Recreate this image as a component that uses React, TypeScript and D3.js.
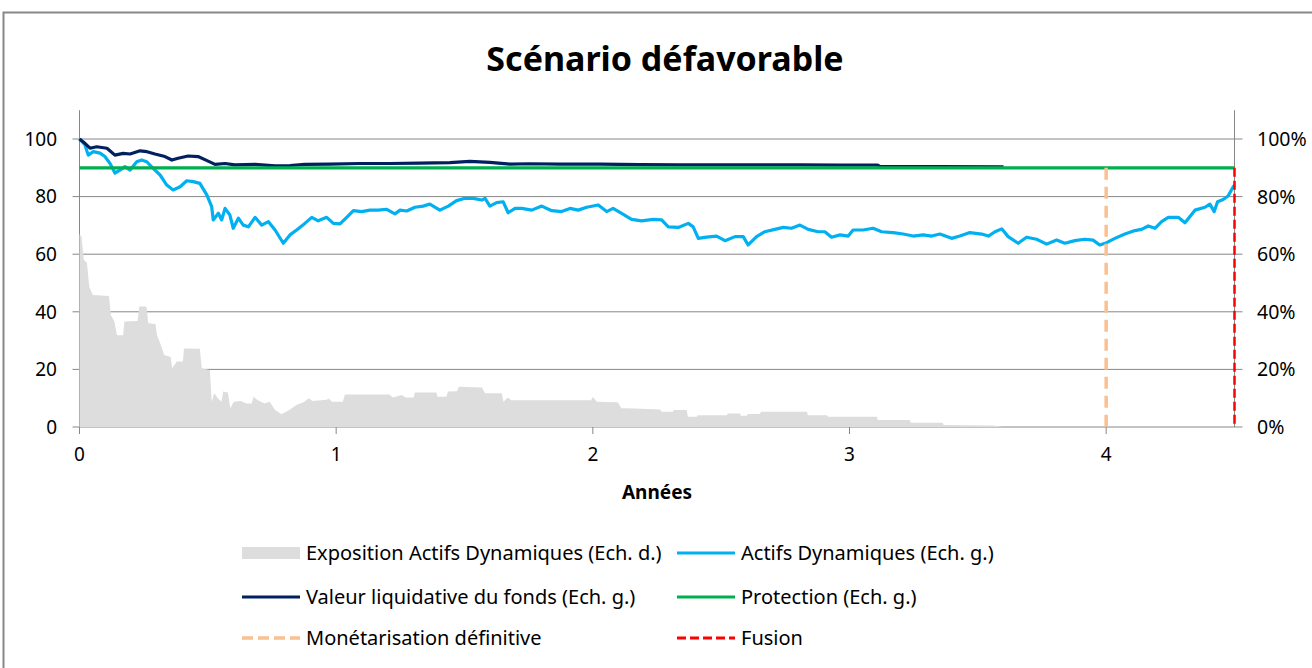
import React from "react";
import * as d3 from "d3";

// ---------- DATA ----------
const TITLE = "Scénario défavorable";
const X_LABEL = "Années";
const xTicks = [0, 1, 2, 3, 4];
const leftTicks = [0, 20, 40, 60, 80, 100];
const rightTicks = [0, 0.2, 0.4, 0.6, 0.8, 1.0];

// Actifs Dynamiques (Ech. g.) : [années, valeur]
const actifsDynamiques: [number, number][] = [
  [0, 100], [0.021, 98], [0.034, 94.4], [0.054, 95.6], [0.08, 95.1], [0.099, 93.9],
  [0.119, 91.5], [0.138, 88.2], [0.158, 89.2], [0.177, 90.4], [0.197, 89.2], [0.223, 92.1],
  [0.242, 92.7], [0.262, 92.1], [0.287, 89.8], [0.314, 87.5], [0.34, 84], [0.365, 82.3],
  [0.392, 83.4], [0.418, 85.5], [0.443, 85.2], [0.469, 84.6], [0.496, 80.6], [0.515, 76.5],
  [0.521, 71.9], [0.541, 74.2], [0.554, 71.9], [0.567, 75.9], [0.586, 73.6], [0.599, 69],
  [0.619, 72.5], [0.638, 70.1], [0.658, 69.5], [0.684, 72.8], [0.71, 70.1], [0.736, 71.3],
  [0.762, 68.4], [0.794, 63.8], [0.82, 66.7], [0.846, 68.4], [0.878, 70.7], [0.905, 72.8],
  [0.93, 71.6], [0.963, 72.8], [0.989, 70.7], [1.015, 70.5], [1.041, 72.8], [1.067, 75.1],
  [1.099, 74.8], [1.132, 75.3], [1.164, 75.3], [1.197, 75.6], [1.229, 74], [1.249, 75.3],
  [1.275, 75], [1.307, 76.3], [1.339, 76.7], [1.365, 77.4], [1.404, 75.3], [1.437, 76.7],
  [1.469, 78.6], [1.502, 79.4], [1.534, 79.4], [1.567, 78.8], [1.58, 79.4], [1.599, 76.7],
  [1.625, 77.9], [1.651, 78.2], [1.67, 74.4], [1.697, 75.9], [1.723, 75.9], [1.762, 75.3],
  [1.801, 76.7], [1.84, 75.1], [1.878, 74.8], [1.911, 75.9], [1.943, 75.3], [1.976, 76.3],
  [2.021, 77.1], [2.054, 74.8], [2.079, 75.9], [2.112, 74.2], [2.151, 72.1], [2.19, 71.6],
  [2.235, 72.1], [2.268, 71.9], [2.294, 69.5], [2.333, 69.3], [2.372, 70.7], [2.391, 69.5],
  [2.411, 65.5], [2.443, 65.9], [2.482, 66.3], [2.515, 64.7], [2.554, 66.1], [2.586, 66.1],
  [2.605, 63.2], [2.638, 66.1], [2.67, 67.8], [2.709, 68.6], [2.742, 69.3], [2.774, 69],
  [2.807, 70.1], [2.839, 68.6], [2.878, 67.8], [2.904, 67.8], [2.93, 65.9], [2.963, 66.7],
  [2.995, 66.3], [3.014, 68.4], [3.053, 68.4], [3.092, 69], [3.125, 67.8], [3.17, 67.5],
  [3.209, 67], [3.248, 66.3], [3.287, 66.7], [3.32, 66.3], [3.352, 67], [3.398, 65.5],
  [3.43, 66.3], [3.469, 67.5], [3.515, 67], [3.541, 66.3], [3.567, 67.8], [3.593, 68.8],
  [3.618, 66.1], [3.657, 63.8], [3.69, 65.9], [3.729, 65.2], [3.768, 63.5], [3.807, 64.9],
  [3.839, 63.8], [3.878, 64.7], [3.917, 65.2], [3.949, 64.9], [3.975, 63.2], [4.002, 64],
  [4.034, 65.5], [4.073, 67], [4.112, 68.2], [4.138, 68.6], [4.164, 69.8], [4.19, 69],
  [4.216, 71.3], [4.242, 72.8], [4.281, 72.8], [4.307, 70.9], [4.346, 75.3], [4.385, 76.3],
  [4.404, 77.4], [4.421, 74.8], [4.434, 78.2], [4.456, 79], [4.475, 80.2], [4.495, 83.4],
  [4.5, 84],
];

// Valeur liquidative du fonds (Ech. g.)
const valeurLiquidative: [number, number][] = [
  [0, 100], [0.021, 98.5], [0.041, 96.8], [0.067, 97.3], [0.107, 96.8], [0.138, 94.4],
  [0.17, 95], [0.197, 94.8], [0.236, 95.9], [0.263, 95.6], [0.294, 94.8], [0.333, 93.9],
  [0.36, 92.7], [0.384, 93.3], [0.423, 94.1], [0.462, 93.9], [0.497, 92.5], [0.528, 91.2],
  [0.567, 91.5], [0.606, 91], [0.684, 91.2], [0.762, 90.7], [0.82, 90.8], [0.878, 91.2],
  [0.976, 91.3], [1.093, 91.5], [1.21, 91.5], [1.326, 91.6], [1.443, 91.8], [1.521, 92.2],
  [1.599, 91.9], [1.677, 91.3], [1.755, 91.4], [1.872, 91.3], [2.028, 91.3], [2.184, 91.1],
  [2.339, 91], [2.495, 91], [2.651, 91], [2.807, 91], [2.963, 90.9], [3.11, 90.9],
  [3.118, 90.5], [3.352, 90.4], [3.6, 90.3],
];

// Protection (Ech. g.)
const protection: [number, number][] = [[0, 90], [4.5, 90]];

// Exposition Actifs Dynamiques (Ech. d.) en %
const exposition: [number, number][] = [
  [0, 67], [0.008, 66], [0.017, 58], [0.029, 57], [0.038, 48.7], [0.052, 45.8],
  [0.115, 45.5], [0.122, 38.9], [0.136, 36.6], [0.146, 31.9], [0.17, 31.9], [0.175, 36.6],
  [0.226, 36.8], [0.233, 41.8], [0.261, 41.8], [0.268, 36], [0.296, 35.8], [0.302, 31.9],
  [0.316, 28.7], [0.33, 25], [0.355, 24.3], [0.361, 20.4], [0.379, 22.7], [0.403, 22.7],
  [0.407, 27.3], [0.469, 27.2], [0.476, 20.4], [0.508, 19.8], [0.515, 8.8], [0.525, 11.7],
  [0.539, 10], [0.553, 8.8], [0.56, 12.3], [0.578, 12], [0.588, 6.5], [0.601, 8.8],
  [0.629, 9], [0.65, 8.2], [0.671, 8.2], [0.678, 10.5], [0.692, 9.5], [0.72, 8.2],
  [0.741, 8.8], [0.762, 5.9], [0.787, 4.4], [0.817, 5.9], [0.845, 7.6], [0.873, 8.6],
  [0.894, 10], [0.908, 9], [0.963, 9.5], [0.97, 9.9], [0.984, 8.8], [1.026, 8.8],
  [1.034, 11.3], [1.207, 11.3], [1.221, 10.2], [1.256, 11.1], [1.27, 10.2], [1.302, 10.2],
  [1.307, 12], [1.39, 12], [1.395, 10.5], [1.429, 10.5], [1.436, 12.3], [1.471, 12.4],
  [1.478, 14], [1.568, 13.7], [1.58, 11.7], [1.645, 11.7], [1.652, 8.8], [1.669, 10.2],
  [1.683, 9.3], [1.993, 9.3], [2.0, 10.4], [2.016, 8.8], [2.097, 8.6], [2.111, 6.5],
  [2.164, 6.4], [2.261, 6.1], [2.269, 5.3], [2.312, 5.3], [2.316, 5.9], [2.366, 5.9],
  [2.37, 3.6], [2.405, 3.6], [2.409, 4.1], [2.522, 4.1], [2.526, 4.7], [2.573, 4.7],
  [2.577, 3.9], [2.6, 3.9], [2.604, 4.5], [2.651, 4.5], [2.655, 5.3], [2.834, 5.3],
  [2.838, 4.1], [2.912, 4.1], [2.916, 3.6], [3.107, 3.6], [3.11, 2.4], [3.235, 2.4],
  [3.239, 1.5], [3.363, 1.5], [3.367, 0.7], [3.56, 0.5], [3.6, 0],
];

const monetarisationYear = 4;
const fusionYear = 4.5;
const verticalTop = 90;

const legendItems = [
  { label: "Exposition Actifs Dynamiques (Ech. d.)", kind: "area", color: "#DDDDDD" },
  { label: "Actifs Dynamiques (Ech. g.)", kind: "line", color: "#00B0F0" },
  { label: "Valeur liquidative du fonds (Ech. g.)", kind: "line", color: "#002060" },
  { label: "Protection (Ech. g.)", kind: "line", color: "#00B050" },
  { label: "Monétarisation définitive", kind: "dash1", color: "#FAC090" },
  { label: "Fusion", kind: "dash2", color: "#FF0000" },
];

// ---------- CHART ----------
const W = 1312;
const H = 668;
const FONT = "'Noto Sans', 'Open Sans', sans-serif";
const GRID = "#878787";

export default function App() {
  const x = d3.scaleLinear().domain([0, 4.5]).range([79.5, 1234.5]);
  const yL = d3.scaleLinear().domain([0, 110]).range([427, 110.2]);
  const yR = d3.scaleLinear().domain([0, 1.1]).range([427, 110.2]);
  const pct = d3.format(".0%");

  const area = d3
    .area<[number, number]>()
    .x((d) => x(d[0]))
    .y0(yR(0))
    .y1((d) => yR(d[1] / 100));
  const line = d3
    .line<[number, number]>()
    .x((d) => x(d[0]))
    .y((d) => yL(d[1]));

  const x0 = x(0);
  const x1 = x(4.5);
  const legendCols = [242, 677];
  const legendRows = [553, 597, 638];

  return (
    <svg
      width={W}
      height={H}
      style={{ position: "absolute", left: 0, top: 0, background: "#fff" }}
      fontFamily={FONT}
    >
      <rect x={3.5} y={12.5} width={1330} height={700} fill="#fff" stroke="#888" strokeWidth={2} />

      <text x={665} y={71} textAnchor="middle" fontSize={34} fontWeight="bold" fill="#000">
        {TITLE}
      </text>

      {/* gridlines + left/right ticks */}
      {leftTicks.map((t) => (
        <line key={"g" + t} x1={x0 - 7} x2={x1 + 8} y1={yL(t)} y2={yL(t)} stroke={GRID} strokeWidth={1} />
      ))}
      {/* axes */}
      <line x1={x0} x2={x0} y1={yL(110)} y2={yL(0)} stroke={GRID} strokeWidth={1} />
      <line x1={x1} x2={x1} y1={yL(110)} y2={yL(0)} stroke={GRID} strokeWidth={1} />
      {xTicks.map((t) => (
        <line key={"xt" + t} x1={x(t)} x2={x(t)} y1={yL(0)} y2={yL(0) + 7} stroke={GRID} strokeWidth={1} />
      ))}

      {/* series */}
      <path d={area(exposition) || ""} fill="#DDDDDD" stroke="none" />
      <path d={line(actifsDynamiques) || ""} fill="none" stroke="#00B0F0" strokeWidth={3.2} strokeLinejoin="round" />
      <path d={line(valeurLiquidative) || ""} fill="none" stroke="#002060" strokeWidth={3.2} strokeLinejoin="round" />
      <path d={line(protection) || ""} fill="none" stroke="#00B050" strokeWidth={3.2} />
      <line
        x1={x(monetarisationYear)} x2={x(monetarisationYear)} y1={yL(verticalTop)} y2={yL(0)}
        stroke="#FAC090" strokeWidth={3.5} strokeDasharray="12 7"
      />
      <line
        x1={x(fusionYear)} x2={x(fusionYear)} y1={yL(verticalTop)} y2={yL(0)}
        stroke="#FF0000" strokeWidth={2.5} strokeDasharray="9 4"
      />

      {/* tick labels */}
      {leftTicks.map((t) => (
        <text key={"l" + t} x={57} y={yL(t)} dy="0.36em" textAnchor="end" fontSize={19} fill="#000">
          {t}
        </text>
      ))}
      {rightTicks.map((t) => (
        <text key={"r" + t} x={1257} y={yR(t)} dy="0.36em" textAnchor="start" fontSize={19.5} fill="#000">
          {pct(t)}
        </text>
      ))}
      {xTicks.map((t) => (
        <text key={"x" + t} x={x(t)} y={461} textAnchor="middle" fontSize={19} fill="#000">
          {t}
        </text>
      ))}
      <text x={657} y={499} textAnchor="middle" fontSize={19} fontWeight="bold" fill="#000">
        {X_LABEL}
      </text>

      {/* legend */}
      {legendItems.map((it, i) => {
        const cx = legendCols[i % 2];
        const cy = legendRows[Math.floor(i / 2)];
        let sym;
        if (it.kind === "area") {
          sym = <rect x={cx} y={cy - 6} width={58} height={12} fill={it.color} />;
        } else if (it.kind === "line") {
          sym = <line x1={cx} x2={cx + 58} y1={cy} y2={cy} stroke={it.color} strokeWidth={3} />;
        } else if (it.kind === "dash1") {
          sym = <line x1={cx} x2={cx + 58} y1={cy} y2={cy} stroke={it.color} strokeWidth={3.5} strokeDasharray="11 5" />;
        } else {
          sym = <line x1={cx} x2={cx + 58} y1={cy} y2={cy} stroke={it.color} strokeWidth={3} strokeDasharray="9 4" />;
        }
        return (
          <g key={it.label}>
            {sym}
            <text x={cx + 64} y={cy} dy="0.36em" fontSize={20} fill="#000">
              {it.label}
            </text>
          </g>
        );
      })}
    </svg>
  );
}
